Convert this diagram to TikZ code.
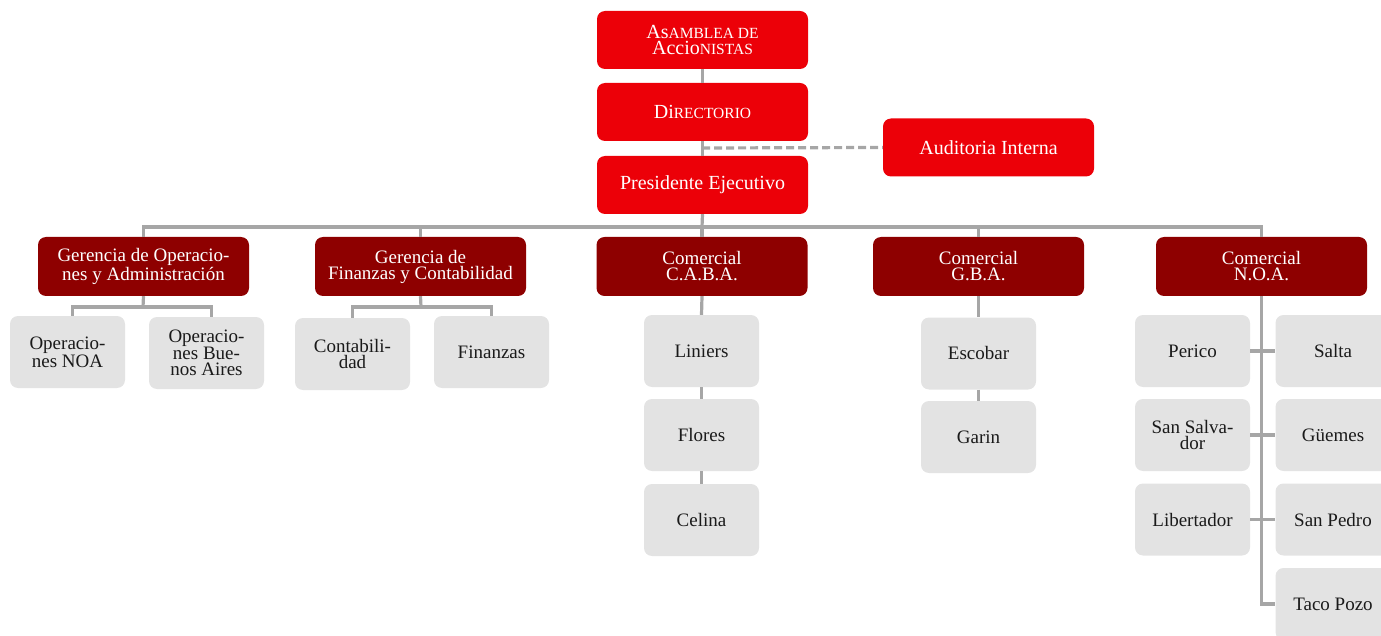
\documentclass[tikz,border=0pt]{standalone}
\usepackage{fontspec}
\setmainfont{Liberation Serif}
\definecolor{topred}{HTML}{EC0008}
\definecolor{midred}{HTML}{8E0000}
\definecolor{leafgray}{HTML}{E3E3E3}
\definecolor{linegray}{HTML}{A6A6A6}
\definecolor{leaftext}{HTML}{1A1A1A}
\newcommand\smcap[1]{{\fontsize{15.5}{16}\selectfont #1}}
\begin{document}
\begin{tikzpicture}[x=1pt,y=-1pt,
  base/.style={rounded corners=8pt, align=center, inner sep=1pt,
    font=\fontsize{19}{16}\selectfont},
  topbox/.style={base, fill=topred, text=white, minimum width=211pt, minimum height=58pt,
    font=\fontsize{20}{16}\selectfont},
  midbox/.style={base, fill=midred, text=white, minimum width=211pt, minimum height=59pt},
  leafbox/.style={base, fill=leafgray, text=leaftext, minimum width=115pt, minimum height=72pt},
  conn/.style={draw=linegray, line width=3.2pt},
  dconn/.style={draw=linegray, line width=3.2pt, dash pattern=on 8pt off 4pt}]
\useasboundingbox (0,0) rectangle (1381,636);
% top
\node[topbox] (asam) at (702.5,40) {As\smcap{AMBLEA DE}\\Accio\smcap{NISTAS}};
\node[topbox] (dir) at (702.5,112) {Di\smcap{RECTORIO}};
\node[topbox] (pres) at (702.5,185) {Presidente Ejecutivo};
\node[topbox] (aud) at (988.5,147.5) {Auditoria Interna};
% level 2
\node[midbox] (gops) at (143.5,266.5) {Gerencia de Operacio-\\nes y Administración};
\node[midbox] (gfin) at (420.5,266.5) {Gerencia de\\Finanzas y Contabilidad};
\node[midbox] (caba) at (702,266.5) {Comercial\\C.A.B.A.};
\node[midbox] (gba) at (978.5,266.5) {Comercial\\G.B.A.};
\node[midbox] (noa) at (1261.5,266.5) {Comercial\\N.O.A.};
% leaves ops / fin
\node[leafbox] (onoa) at (67.5,352) {Operacio-\\nes NOA};
\node[leafbox] (oba) at (206.5,353) {Operacio-\\nes Bue-\\nos Aires};
\node[leafbox] (cont) at (352.5,354) {Contabili-\\dad};
\node[leafbox] (fins) at (491.5,352) {Finanzas};
% caba
\node[leafbox] (lin) at (701.5,351) {Liniers};
\node[leafbox] (flo) at (701.5,435) {Flores};
\node[leafbox] (cel) at (701.5,520) {Celina};
% gba
\node[leafbox] (esc) at (978.5,353.5) {Escobar};
\node[leafbox] (gar) at (978.5,437) {Garin};
% noa
\node[leafbox] (per) at (1192.5,351) {Perico};
\node[leafbox] (ssal) at (1192.5,435) {San Salva-\\dor};
\node[leafbox] (lib) at (1192.5,519.5) {Libertador};
\node[leafbox] (sal) at (1333,351) {Salta};
\node[leafbox] (gue) at (1333,435) {Güemes};
\node[leafbox] (sped) at (1333,519.5) {San Pedro};
\node[leafbox] (taco) at (1333,604) {Taco Pozo};
% connectors
\coordinate (bar) at (702,227);
\coordinate (dmid) at (702,148);
\coordinate (opsbar) at (143,307);
\coordinate (finbar) at (421,307);
\draw[conn] (asam.south) -- (dir.north);
\draw[conn] (dir.south) -- (pres.north);
\draw[dconn] (dmid) -- (aud.west);
\draw[conn] (pres.south) -- (bar);
\foreach \n in {gops,gfin,caba,gba,noa}
  \draw[conn] (bar) -| (\n.north);
\draw[conn] (gops.south) -- (opsbar);
\draw[conn] (opsbar) -| ([xshift=5pt]onoa.north);
\draw[conn] (opsbar) -| ([xshift=5pt]oba.north);
\draw[conn] (gfin.south) -- (finbar);
\draw[conn] (finbar) -| (cont.north);
\draw[conn] (finbar) -| (fins.north);
\draw[conn] (caba.south) -- (lin.north);
\draw[conn] (lin.south) -- (flo.north);
\draw[conn] (flo.south) -- (cel.north);
\draw[conn] (gba.south) -- (esc.north);
\draw[conn] (esc.south) -- (gar.north);
\draw[conn] (noa.south) |- (taco.west);
\draw[conn] (per.east) -- (sal.west);
\draw[conn] (ssal.east) -- (gue.west);
\draw[conn] (lib.east) -- (sped.west);
\end{tikzpicture}
\end{document}
